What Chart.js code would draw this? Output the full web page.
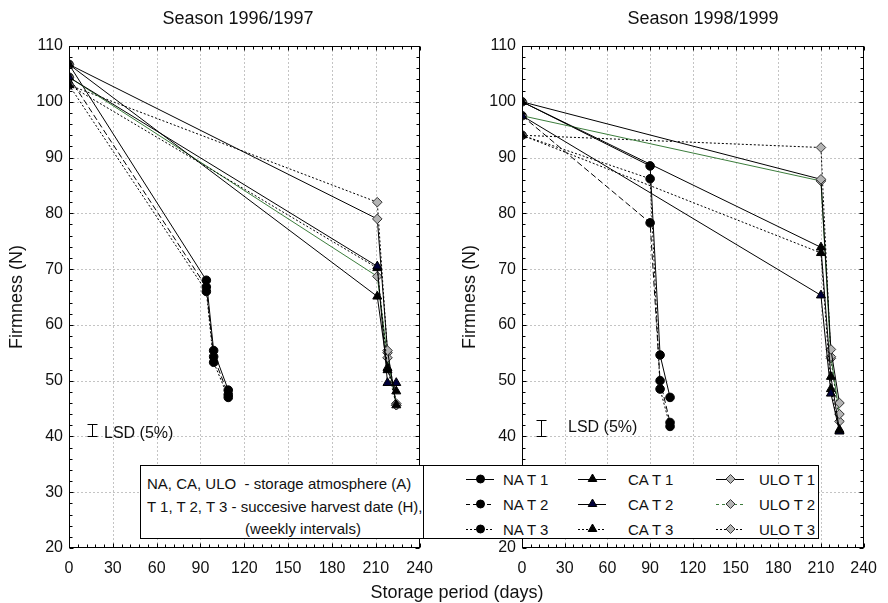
<!DOCTYPE html>
<html>
<head>
<meta charset="utf-8">
<script src="https://cdn.jsdelivr.net/npm/chart.js@4.4.1/dist/chart.umd.min.js"></script>
<style>
  html, body { margin: 0; padding: 0; background: #fff; }
  body { font-family: "Liberation Sans", Arial, sans-serif; color: #111; }
  #wrap { position: relative; width: 888px; height: 603px; overflow: hidden; background: #fff; }
  .cv { position: absolute; top: 0; }
  .txt { position: absolute; white-space: pre; line-height: 1; }
  #legend { position: absolute; left: 140px; top: 465px; width: 677px; height: 72px; border: 1px solid #000; background: #fff; z-index: 5; }
  #legend .div { position: absolute; left: 282px; top: 0; width: 1px; height: 72px; background: #000; }
  #legend .t { position: absolute; white-space: pre; font-size: 15px; line-height: 1; }
  #legend svg { position: absolute; overflow: visible; }
</style>
</head>
<body>
<div id="wrap">
  <canvas id="c1" class="cv" width="444" height="603" style="left:0"></canvas>
  <canvas id="c2" class="cv" width="444" height="603" style="left:444px"></canvas>
  <div class="txt" style="left:238px;top:9px;font-size:18px;transform:translateX(-50%)">Season 1996/1997</div>
  <div class="txt" style="left:703px;top:9px;font-size:18px;transform:translateX(-50%)">Season 1998/1999</div>
  <div class="txt" style="left:457px;top:583px;font-size:18px;transform:translateX(-50%)">Storage period (days)</div>
  <div class="txt" style="left:104px;top:425px;font-size:16px">LSD (5%)</div>
  <div class="txt" style="left:568px;top:419px;font-size:16px">LSD (5%)</div>
  <div id="legend"></div>
</div>
<script>
// ---------------- DATA ----------------
// storage + shelf-life days (x)
const daysNA_9697    = [0, 94, 99, 109];
const daysCAULO_9697 = [0, 211, 218, 224];
const daysNA_9899    = [0, 90, 97, 104];
const daysCAULO_9899 = [0, 210, 217, 223];

// Season 1996/1997 firmness (N)
const NA_T1_9697  = [106.7, 68.0, 55.4, 48.3];
const NA_T2_9697  = [104.4, 66.8, 54.3, 47.5];
const NA_T3_9697  = [103.0, 66.0, 53.3, 47.0];
const CA_T1_9697  = [106.7, 65.1, 51.9, 48.1];
const CA_T2_9697  = [104.4, 70.5, 49.6, 49.6];
const CA_T3_9697  = [103.0, 70.2, 52.3, 45.6];
const ULO_T1_9697 = [106.7, 79.0, 55.4, 45.6];
const ULO_T2_9697 = [104.4, 68.7, 54.1, 45.6];
const ULO_T3_9697 = [103.0, 82.0, 55.0, 45.9];

// Season 1998/1999 firmness (N)
const NA_T1_9899  = [100.0, 88.5, 54.6, 47.0];
const NA_T2_9899  = [97.5, 78.3, 50.0, 42.5];
const NA_T3_9899  = [94.0, 86.2, 48.5, 41.8];
const CA_T1_9899  = [100.0, 73.9, 50.7, 41.2];
const CA_T2_9899  = [97.5, 65.3, 47.7, 40.9];
const CA_T3_9899  = [94.0, 72.9, 48.5, 41.0];
const ULO_T1_9899 = [100.0, 86.1, 55.6, 46.0];
const ULO_T2_9899 = [97.5, 85.8, 54.3, 44.0];
const ULO_T3_9899 = [94.0, 91.8, 54.0, 42.7];

// LSD (5%) bars: [day, low, high]
const LSD_9697 = [15.5, 40.0, 42.2];
const LSD_9899 = [13, 40.0, 43.0];

// axis ticks
const xTicks = [0, 30, 60, 90, 120, 150, 180, 210, 240];
const yTicks = [20, 30, 40, 50, 60, 70, 80, 90, 100, 110];

// ---------------- STYLES ----------------
const GREEN = '#3c7d3c';
const GRAYFILL = '#b4b4b4';
const styleOf = {
  NA_T1:  {shape:'circle',   r:4.3, fill:'#000', stroke:'#000', color:'#000', dash:[]},
  NA_T2:  {shape:'circle',   r:4.3, fill:'#000', stroke:'#000', color:'#000', dash:[6,3]},
  NA_T3:  {shape:'circle',   r:4.3, fill:'#000', stroke:'#000', color:'#000', dash:[2,2]},
  CA_T1:  {shape:'triangle', r:5.2, fill:'#000', stroke:'#000', color:'#000', dash:[]},
  CA_T2:  {shape:'triangle', r:5.2, fill:'#00003a', stroke:'#000', color:'#000', dash:[]},
  CA_T3:  {shape:'triangle', r:5.2, fill:'#000', stroke:'#000', color:'#000', dash:[2,2]},
  ULO_T1: {shape:'rectRot',  r:4.8, fill:GRAYFILL, stroke:'#333', color:'#000', dash:[]},
  ULO_T2: {shape:'rectRot',  r:4.8, fill:GRAYFILL, stroke:'#333', color:GREEN, dash:[]},
  ULO_T3: {shape:'rectRot',  r:4.8, fill:GRAYFILL, stroke:'#333', color:'#000', dash:[2,2]}
};

function pts(xs, ys) { return xs.map((x, i) => ({x: x, y: ys[i]})); }
function ds(key, xs, ys) {
  const s = styleOf[key];
  return {
    label: key.replace('_', ' ').replace('T', 'T '),
    data: pts(xs, ys),
    showLine: true,
    borderColor: s.color,
    borderWidth: 1,
    borderDash: s.dash,
    pointStyle: s.shape,
    pointRadius: s.r,
    pointHoverRadius: s.r,
    pointBackgroundColor: s.fill,
    pointBorderColor: s.stroke,
    pointBorderWidth: 1,
    tension: 0
  };
}

const FONT = "'Liberation Sans', Arial, sans-serif";

// frame, dotted grid, inward minor ticks, LSD bar
const decor = {
  id: 'decor',
  beforeDatasetsDraw(chart, args, opts) {
    const {ctx, chartArea: a, scales: {x, y}} = chart;
    ctx.save();
    ctx.strokeStyle = '#c4c4c4';
    ctx.lineWidth = 1;
    ctx.setLineDash([2, 2]);
    xTicks.forEach(v => {
      if (v === 0 || v === 240) return;
      const px = Math.round(x.getPixelForValue(v)) + 0.5;
      ctx.beginPath(); ctx.moveTo(px, a.top); ctx.lineTo(px, a.bottom); ctx.stroke();
    });
    yTicks.forEach(v => {
      if (v === 20 || v === 110) return;
      const py = Math.round(y.getPixelForValue(v)) + 0.5;
      ctx.beginPath(); ctx.moveTo(a.left, py); ctx.lineTo(a.right, py); ctx.stroke();
    });
    ctx.restore();
  },
  afterDatasetsDraw(chart, args, opts) {
    const {ctx, chartArea: a, scales: {x, y}} = chart;
    ctx.save();
    ctx.setLineDash([]);
    ctx.strokeStyle = '#000';
    ctx.lineWidth = 1;
    const L = Math.round(a.left) + 0.5, R = Math.round(a.right) - 0.5;
    const T = Math.round(a.top) + 0.5, B = Math.round(a.bottom) - 0.5;
    ctx.strokeRect(L, T, R - L, B - T);
    ctx.beginPath();
    for (let v = 0; v <= 240; v += 6) {
      const px = Math.round(x.getPixelForValue(v)) + 0.5;
      const len = (v % 30 === 0) ? 4 : 3;
      ctx.moveTo(px, B); ctx.lineTo(px, B - len);
      ctx.moveTo(px, T); ctx.lineTo(px, T + len);
    }
    for (let v = 20; v <= 110; v += 2) {
      const py = Math.round(y.getPixelForValue(v)) + 0.5;
      const len = (v % 10 === 0) ? 4 : 3;
      ctx.moveTo(L, py); ctx.lineTo(L + len, py);
      ctx.moveTo(R, py); ctx.lineTo(R - len, py);
    }
    ctx.stroke();
    const lsd = opts.lsd;
    if (lsd) {
      const bx = Math.round(x.getPixelForValue(lsd[0])) + 0.5;
      const y1 = Math.round(y.getPixelForValue(lsd[1])) + 0.5;
      const y2 = Math.round(y.getPixelForValue(lsd[2])) + 0.5;
      ctx.beginPath();
      ctx.moveTo(bx, y1); ctx.lineTo(bx, y2);
      ctx.moveTo(bx - 5, y1); ctx.lineTo(bx + 5, y1);
      ctx.moveTo(bx - 5, y2); ctx.lineTo(bx + 5, y2);
      ctx.stroke();
    }
    ctx.restore();
  }
};

function makeChart(id, datasets, yW, padR, titlePad, lsd) {
  return new Chart(document.getElementById(id), {
    type: 'scatter',
    data: {datasets: datasets},
    plugins: [decor],
    options: {
      responsive: false,
      devicePixelRatio: 1,
      animation: false,
      events: [],
      layout: {padding: {left: 0, right: padR, top: 46, bottom: 0}},
      plugins: {legend: {display: false}, tooltip: {enabled: false}, title: {display: false}, decor: {lsd: lsd}},
      scales: {
        x: {
          type: 'linear', min: 0, max: 240,
          afterBuildTicks: s => { s.ticks = xTicks.map(v => ({value: v})); },
          afterFit: s => { s.height = 55; },
          grid: {display: false, drawTicks: false},
          border: {display: false},
          ticks: {padding: 11, color: '#111', font: {family: FONT, size: 16}, maxRotation: 0, autoSkip: false}
        },
        y: {
          type: 'linear', min: 20, max: 110,
          afterBuildTicks: s => { s.ticks = yTicks.map(v => ({value: v})); },
          afterFit: s => { s.width = yW; },
          grid: {display: false, drawTicks: false},
          border: {display: false},
          ticks: {padding: 6, color: '#111', font: {family: FONT, size: 16}, autoSkip: false},
          title: {display: true, text: 'Firmness (N)', color: '#111', font: {family: FONT, size: 18}, padding: {top: titlePad, bottom: 0}}
        }
      }
    }
  });
}

makeChart('c1', [
  ds('CA_T1', daysCAULO_9697, CA_T1_9697),
  ds('CA_T2', daysCAULO_9697, CA_T2_9697),
  ds('CA_T3', daysCAULO_9697, CA_T3_9697),
  ds('ULO_T1', daysCAULO_9697, ULO_T1_9697),
  ds('ULO_T2', daysCAULO_9697, ULO_T2_9697),
  ds('ULO_T3', daysCAULO_9697, ULO_T3_9697),
  ds('NA_T1', daysNA_9697, NA_T1_9697),
  ds('NA_T2', daysNA_9697, NA_T2_9697),
  ds('NA_T3', daysNA_9697, NA_T3_9697)
], 69, 21, 6, LSD_9697);

makeChart('c2', [
  ds('CA_T1', daysCAULO_9899, CA_T1_9899),
  ds('CA_T2', daysCAULO_9899, CA_T2_9899),
  ds('CA_T3', daysCAULO_9899, CA_T3_9899),
  ds('ULO_T1', daysCAULO_9899, ULO_T1_9899),
  ds('ULO_T2', daysCAULO_9899, ULO_T2_9899),
  ds('ULO_T3', daysCAULO_9899, ULO_T3_9899),
  ds('NA_T1', daysNA_9899, NA_T1_9899),
  ds('NA_T2', daysNA_9899, NA_T2_9899),
  ds('NA_T3', daysNA_9899, NA_T3_9899)
], 78, 12, 15, LSD_9899);

// ---------------- LEGEND (HTML) ----------------
const legendNotes = [
  'NA, CA, ULO  - storage atmosphere (A)',
  'T 1, T 2, T 3 - succesive harvest date (H),',
  '(weekly intervals)'
];
const legendCols = [
  ['NA_T1', 'NA_T2', 'NA_T3'],
  ['CA_T1', 'CA_T2', 'CA_T3'],
  ['ULO_T1', 'ULO_T2', 'ULO_T3']
];
const legendLabels = {
  NA_T1: 'NA T 1', NA_T2: 'NA T 2', NA_T3: 'NA T 3',
  CA_T1: 'CA T 1', CA_T2: 'CA T 2', CA_T3: 'CA T 3',
  ULO_T1: 'ULO T 1', ULO_T2: 'ULO T 2', ULO_T3: 'ULO T 3'
};
const legendDash = { NA_T1:'', NA_T2:'4,3', NA_T3:'2,2', CA_T1:'', CA_T2:'', CA_T3:'2,2', ULO_T1:'', ULO_T2:'3,3', ULO_T3:'2,2' };

(function buildLegend() {
  const box = document.getElementById('legend');
  let html = '<div class="div"></div>';
  html += '<div class="t" style="left:6px;top:10px">' + legendNotes[0] + '</div>';
  html += '<div class="t" style="left:6px;top:33px">' + legendNotes[1] + '</div>';
  html += '<div class="t" style="left:162px;top:55px;transform:translateX(-50%)">' + legendNotes[2] + '</div>';
  const colX = [325, 437, 575];
  const textX = [362, 487, 618];
  const rowY = [13, 38, 63];
  legendCols.forEach((col, ci) => {
    col.forEach((key, ri) => {
      const s = styleOf[key];
      const cy = rowY[ri];
      const w = 27, cx = w / 2 + 1;
      let marker;
      if (s.shape === 'circle') marker = '<circle cx="' + cx + '" cy="8" r="4" fill="' + s.fill + '" stroke="' + s.stroke + '"/>';
      else if (s.shape === 'triangle') marker = '<polygon points="' + cx + ',3 ' + (cx + 4.3) + ',10.5 ' + (cx - 4.3) + ',10.5" fill="' + s.fill + '" stroke="#000"/>';
      else marker = '<polygon points="' + cx + ',3.5 ' + (cx + 4.5) + ',8 ' + cx + ',12.5 ' + (cx - 4.5) + ',8" fill="' + s.fill + '" stroke="#333"/>';
      const dashAttr = legendDash[key] ? ' stroke-dasharray="' + legendDash[key] + '"' : '';
      html += '<svg style="left:' + colX[ci] + 'px;top:' + (cy - 8) + 'px" width="' + (w + 2) + '" height="16">' +
        '<line x1="0" y1="8.5" x2="' + (w + 1) + '" y2="8.5" stroke="' + s.color + '" stroke-width="1"' + dashAttr + '/>' + marker + '</svg>';
      html += '<div class="t" style="left:' + textX[ci] + 'px;top:' + (cy - 7) + 'px">' + legendLabels[key] + '</div>';
    });
  });
  box.innerHTML = html;
})();
</script>
</body>
</html>
